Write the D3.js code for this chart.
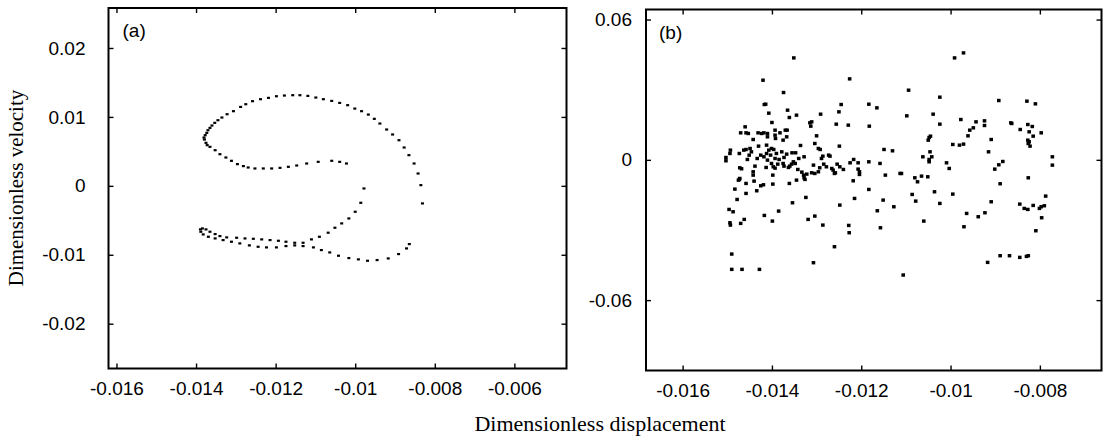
<!DOCTYPE html>
<head>
  <title>Phase portraits</title>
  <meta charset="utf-8">
  <script src="https://d3js.org/d3.v7.min.js"></script>

  <style>
    body { margin: 0; background: #fff; }
    .tick text { font-family: "Liberation Sans", Arial, sans-serif; font-size: 19px; fill: #000; }
    .tick line { stroke: #000; stroke-width: 1.4; }
    .frame { fill: none; stroke: #000; stroke-width: 2; }
    .panel-label { font-family: "Liberation Sans", Arial, sans-serif; font-size: 19px; }
    .axis-title { font-family: "Liberation Serif", "Times New Roman", serif; font-size: 21px; }
  </style>
</head>
<body>

  <svg width="1103" height="443"></svg>

  <script>

  // ---- data, panel (a): displacement / velocity ----
  var dispA = [
    -0.01380,-0.01379,-0.01377,-0.01373,-0.01370,-0.01365,-0.01360,-0.01353,-0.01345,-0.01335,
    -0.01322,-0.01306,-0.01288,-0.01275,-0.01258,-0.01238,-0.01218,-0.01198,-0.01178,-0.01157,
    -0.01139,-0.01119,-0.01099,-0.01080,-0.01059,-0.01039,-0.01019,-0.01001,-0.00984,-0.00967,
    -0.00952,-0.00938,-0.00921,-0.00906,-0.00890,-0.00877,-0.00865,-0.00852,-0.00842,-0.00835,
    -0.00831,
    -0.00864,-0.00871,-0.00891,-0.00917,-0.00945,-0.00969,-0.00992,-0.01016,-0.01042,-0.01064,
    -0.01085,-0.01105,-0.01131,-0.01152,-0.01174,-0.01198,-0.01223,-0.01244,-0.01266,-0.01290,
    -0.01311,-0.01332,-0.01352,-0.01369,-0.01382,-0.01388,
    -0.01389,-0.01384,-0.01375,-0.01365,-0.01352,-0.01340,-0.01323,-0.01298,-0.01277,-0.01256,
    -0.01235,-0.01214,-0.01193,-0.01174,-0.01152,-0.01131,-0.01110,-0.01090,-0.01068,-0.01051,
    -0.01034,-0.01016,-0.01000,-0.00986,-0.00978,
    -0.01375,-0.01372,-0.01365,-0.01352,-0.01340,-0.01325,-0.01311,-0.01296,-0.01281,-0.01269,
    -0.01252,-0.01231,-0.01210,-0.01189,-0.01168,-0.01147,-0.01122,-0.01093,-0.01059,-0.01039,
    -0.01022
  ];
  var velA = [
    0.00701,0.00672,0.00735,0.00769,0.00807,0.00841,0.00875,0.00914,0.00952,0.00991,
    0.01039,0.01083,0.01145,0.01184,0.01228,0.01257,0.01276,0.01300,0.01310,0.01315,
    0.01315,0.01305,0.01281,0.01257,0.01232,0.01203,0.01170,0.01121,0.01083,0.01034,
    0.00972,0.00904,0.00817,0.00745,0.00662,0.00556,0.00445,0.00324,0.00179,0.00010,
    -0.00255,
    -0.00845,-0.00908,-0.00990,-0.01053,-0.01077,-0.01087,-0.01067,-0.01048,-0.01014,-0.00966,
    -0.00932,-0.00893,-0.00874,-0.00864,-0.00874,-0.00893,-0.00893,-0.00884,-0.00864,-0.00835,
    -0.00811,-0.00787,-0.00763,-0.00739,-0.00705,-0.00666,
    -0.00632,-0.00618,-0.00632,-0.00666,-0.00700,-0.00729,-0.00748,-0.00753,-0.00763,-0.00768,
    -0.00777,-0.00787,-0.00797,-0.00811,-0.00826,-0.00826,-0.00777,-0.00739,-0.00680,-0.00608,
    -0.00545,-0.00473,-0.00376,-0.00246,-0.00038,
    0.00624,0.00590,0.00566,0.00517,0.00459,0.00411,0.00363,0.00315,0.00286,0.00266,
    0.00252,0.00252,0.00252,0.00261,0.00276,0.00295,0.00324,0.00348,0.00363,0.00348,
    0.00324
  ];

  // ---- data, panel (b) ----
  var dispB = [
    -0.01351,-0.01420,-0.01374,-0.01226,-0.00991,-0.00971,-0.01094,-0.01024,-0.00892,-0.00829,
    -0.00810,-0.00865,-0.00863,-0.01503,-0.01503,-0.01493,-0.01494,-0.01473,-0.01472,-0.01468,
    -0.01470,-0.01458,-0.01460,-0.01453,-0.01463,-0.01458,-0.01449,-0.01451,-0.01455,-0.01442,
    -0.01431,-0.01423,-0.01418,-0.01410,-0.01410,-0.01430,-0.01433,-0.01438,-0.01442,-0.01442,
    -0.01473,-0.01472,-0.01475,-0.01458,-0.01458,-0.01440,-0.01434,-0.01425,-0.01419,-0.01483,
    -0.01478,-0.01496,-0.01487,-0.01494,-0.01493,-0.01470,-0.01462,-0.01490,-0.01490,-0.01467,
    -0.01428,-0.01417,-0.01399,-0.01385,-0.01417,-0.01414,-0.01407,-0.01400,-0.01393,-0.01393,
    -0.01392,-0.01412,-0.01412,-0.01407,-0.01401,-0.01396,-0.01393,-0.01401,-0.01397,-0.01393,
    -0.01410,-0.01413,-0.01398,-0.01398,-0.01382,-0.01375,-0.01378,-0.01373,-0.01375,-0.01373,
    -0.01370,-0.01366,-0.01367,-0.01365,-0.01361,-0.01363,-0.01360,-0.01356,-0.01361,-0.01355,
    -0.01347,-0.01345,-0.01336,-0.01354,-0.01340,-0.01342,-0.01333,-0.01328,-0.01329,-0.01326,
    -0.01322,-0.01324,-0.01328,-0.01315,-0.01313,-0.01311,-0.01304,-0.01300,-0.01296,-0.01292,
    -0.01291,-0.01286,-0.01284,-0.01289,-0.01278,-0.01273,-0.01270,-0.01266,-0.01263,-0.01258,
    -0.01260,-0.01254,-0.01248,-0.01249,-0.01250,-0.01256,-0.01245,-0.01240,-0.01319,-0.01304,
    -0.01307,-0.01286,-0.01260,-0.01248,-0.01229,-0.01228,-0.01227,-0.01225,-0.01217,-0.01218,
    -0.01215,-0.01207,-0.01204,-0.01204,-0.01207,-0.01183,-0.01182,-0.01183,-0.01183,-0.01165,
    -0.01164,-0.01158,-0.01157,-0.01149,-0.01151,-0.01146,-0.01130,-0.01127,-0.01113,-0.01110,
    -0.01098,-0.01086,-0.01080,-0.01078,-0.01074,-0.01065,-0.01060,-0.01051,-0.01036,-0.01024,
    -0.01106,-0.01062,-0.01050,-0.01048,-0.01045,-0.01046,-0.01048,-0.01042,-0.01048,-0.01039,
    -0.01024,-0.01009,-0.01003,-0.00995,-0.00977,-0.00995,-0.00980,-0.00971,-0.00970,-0.00961,
    -0.00957,-0.00949,-0.00943,-0.00924,-0.00924,-0.00909,-0.00915,-0.00901,-0.00892,-0.00883,
    -0.00889,-0.00909,-0.00917,-0.00889,-0.00868,-0.00845,-0.00830,-0.00826,-0.00964,-0.00938,
    -0.00923,-0.00844,-0.00827,-0.00824,-0.00817,-0.00815,-0.00797,-0.00827,-0.00826,-0.00822,
    -0.00824,-0.00826,-0.00845,-0.00835,-0.00827,-0.00815,-0.00801,-0.00797,-0.00790,-0.00787,
    -0.00796,-0.00809,-0.00772,-0.00772,-0.01446,-0.01425,-0.01418,-0.01403,-0.01390,-0.01384,
    -0.01387,-0.01367,-0.01352,-0.01348,-0.01345,-0.01307,-0.01296,-0.01293,-0.01311,-0.01304
  ];
  var velB = [
    0.04360,0.03406,0.02879,0.03463,0.04360,0.04574,0.02979,0.02680,0.02537,0.02509,
    0.02395,0.01583,0.01554,0.00101,-0.00041,0.00415,0.00272,0.00272,-0.00340,-0.00383,
    0.01155,0.01155,0.01412,0.01127,0.00415,0.00443,0.00486,0.00201,0.00016,0.00870,
    0.01155,0.01127,0.01155,0.01127,0.00984,0.00586,0.00058,-0.00269,-0.00511,-0.00654,
    -0.00839,-0.00796,-0.00868,-0.01010,-0.01437,-0.00910,-0.01323,-0.01110,-0.01067,-0.01252,
    -0.01694,-0.02121,-0.02221,-0.02691,-0.02791,-0.02719,-0.02548,-0.04030,-0.04685,-0.04685,
    -0.04685,-0.02378,-0.02620,-0.02192,0.02366,0.02380,0.01996,0.01597,0.01269,0.01056,
    0.00913,0.00628,0.00272,0.00415,0.00486,0.00443,0.00058,-0.00155,-0.00298,-0.00355,
    -0.00013,-0.00326,-0.00654,-0.01038,0.01155,0.00842,0.00343,0.00101,-0.00155,-0.00269,
    0.01269,0.01269,0.00984,0.02124,0.01811,-0.00326,-0.00269,-0.00184,-0.01010,0.00301,
    0.00301,0.01910,0.00614,-0.01836,0.00058,-0.00412,-0.00526,0.00130,-0.00654,-0.00839,
    -0.00611,-0.01608,-0.00768,0.01583,0.01440,0.01625,0.00699,0.01027,0.00486,0.00443,
    0.01953,0.00158,-0.00184,0.00058,-0.00298,0.00201,0.00158,-0.00369,-0.00440,-0.00554,
    -0.00583,-0.00184,-0.00298,0.00586,0.02053,0.01526,0.02366,-0.00412,-0.02548,-0.02406,
    -0.04400,-0.02791,-0.03716,-0.01936,0.01483,-0.02805,-0.03118,-0.00127,0.00016,-0.00896,
    -0.01651,-0.00397,-0.00511,-0.00625,-0.00127,0.02380,0.01440,-0.00084,-0.01266,0.02224,
    -0.02178,-0.00155,-0.02905,0.00443,-0.01722,-0.00654,0.00386,-0.02007,-0.00583,-0.00583,
    0.01882,-0.01480,-0.00768,-0.01765,-0.00939,-0.00697,-0.02620,-0.00725,-0.01366,-0.01865,
    -0.04927,0.00130,0.00842,0.00956,0.01013,0.00343,0.00016,0.00130,-0.00084,0.01953,
    0.01526,-0.00127,-0.00369,-0.01466,0.01725,0.00657,0.00628,0.00671,-0.02862,0.01027,
    0.01269,0.01369,0.01625,0.01668,0.01469,0.00870,0.00343,-0.00397,-0.00212,-0.00070,
    -0.01024,-0.01793,-0.04386,-0.04101,-0.04101,-0.04172,-0.04130,-0.04101,-0.02292,-0.02434,
    -0.02264,0.01298,0.01511,0.01198,0.01426,0.01013,0.01155,0.00842,0.00699,0.00586,
    0.00771,-0.00768,-0.01893,-0.02078,-0.02121,-0.01950,-0.02078,-0.02007,-0.01964,-0.01551,
    -0.02477,-0.03033,0.00130,-0.00227,0.00343,0.00201,0.00130,0.00201,0.00272,0.00016,
    -0.00184,0.00244,-0.00084,-0.00155,-0.00868,-0.00227,-0.00511,-0.00340,-0.00554,-0.00583
  ];

  // ---- ticks ----
  var xTicksA = [-0.016, -0.014, -0.012, -0.01, -0.008, -0.006];
  var xLabelsA = ['-0.016', '-0.014', '-0.012', '-0.01', '-0.008', '-0.006'];
  var yTicksA = [0.02, 0.01, 0, -0.01, -0.02];
  var yLabelsA = ['0.02', '0.01', '0', '-0.01', '-0.02'];
  var xTicksB = [-0.016, -0.014, -0.012, -0.01, -0.008];
  var xLabelsB = ['-0.016', '-0.014', '-0.012', '-0.01', '-0.008'];
  var yTicksB = [0.06, 0, -0.06];
  var yLabelsB = ['0.06', '0', '-0.06'];

  var svg = d3.select('svg');

  // Panel boxes (pixel frames) and their domains
  var panels = [
    {name: '(a)', box: {left: 108.5, right: 566.5, top: 8, bottom: 368.5},
     xDom: [-0.0162, -0.00469], yDom: [-0.0265, 0.0258],
     xs: dispA, ys: velA, xt: xTicksA, xl: xLabelsA, yt: yTicksA, yl: yLabelsA,
     mark: {w: 3, h: 2.2}},
    {name: '(b)', box: {left: 646, right: 1101.5, top: 9.5, bottom: 370.5},
     xDom: [-0.01682, -0.00662], yDom: [-0.0901, 0.0643],
     xs: dispB, ys: velB, xt: xTicksB, xl: xLabelsB, yt: yTicksB, yl: yLabelsB,
     mark: {w: 3.6, h: 3.4}}
  ];

  panels.forEach(function(p) {
    var b = p.box;
    var w = b.right - b.left, h = b.bottom - b.top;
    var x = d3.scaleLinear().domain(p.xDom).range([0, w]);
    var y = d3.scaleLinear().domain(p.yDom).range([h, 0]);

    var g = svg.append('g')
      .attr('transform', 'translate(' + b.left + ',' + b.top + ')');

    // axes, ticks pointing inward, mirrored on top / right
    var fmt = function(list, labels) {
      return function(d) { return labels[list.indexOf(d)]; };
    };

    g.append('g')
      .attr('transform', 'translate(0,' + h + ')')
      .call(d3.axisBottom(x).tickValues(p.xt).tickSize(-5).tickPadding(13)
        .tickFormat(fmt(p.xt, p.xl)));
    g.append('g')
      .call(d3.axisTop(x).tickValues(p.xt).tickSize(-5).tickFormat(''));
    g.append('g')
      .call(d3.axisLeft(y).tickValues(p.yt).tickSize(-5)
        .tickPadding(p.name === '(a)' ? 23 : 14)
        .tickFormat(fmt(p.yt, p.yl)));
    g.append('g')
      .attr('transform', 'translate(' + w + ',0)')
      .call(d3.axisRight(y).tickValues(p.yt).tickSize(-5).tickFormat(''));

    g.selectAll('.domain').remove();

    // points
    var pts = p.xs.map(function(d, i) { return [d, p.ys[i]]; });
    g.append('g').selectAll('rect')
      .data(pts)
      .enter().append('rect')
      .attr('x', function(d) { return x(d[0]) - p.mark.w / 2; })
      .attr('y', function(d) { return y(d[1]) - p.mark.h / 2; })
      .attr('width', p.mark.w)
      .attr('height', p.mark.h)
      .attr('fill', '#000');

    // frame
    g.append('rect')
      .attr('class', 'frame')
      .attr('width', w)
      .attr('height', h);

    g.append('text')
      .attr('class', 'panel-label')
      .attr('x', p.name === '(a)' ? 14 : 13)
      .attr('y', 29)
      .text(p.name);
  });

  // Axis titles
  svg.append('text')
    .attr('class', 'axis-title')
    .attr('text-anchor', 'middle')
    .attr('transform', 'translate(23,188) rotate(-90)')
    .text('Dimensionless velocity');

  svg.append('text')
    .attr('class', 'axis-title')
    .attr('text-anchor', 'middle')
    .attr('x', 600)
    .attr('y', 431)
    .style('font-size', '22px')
    .text('Dimensionless displacement');

  </script>

</body>
